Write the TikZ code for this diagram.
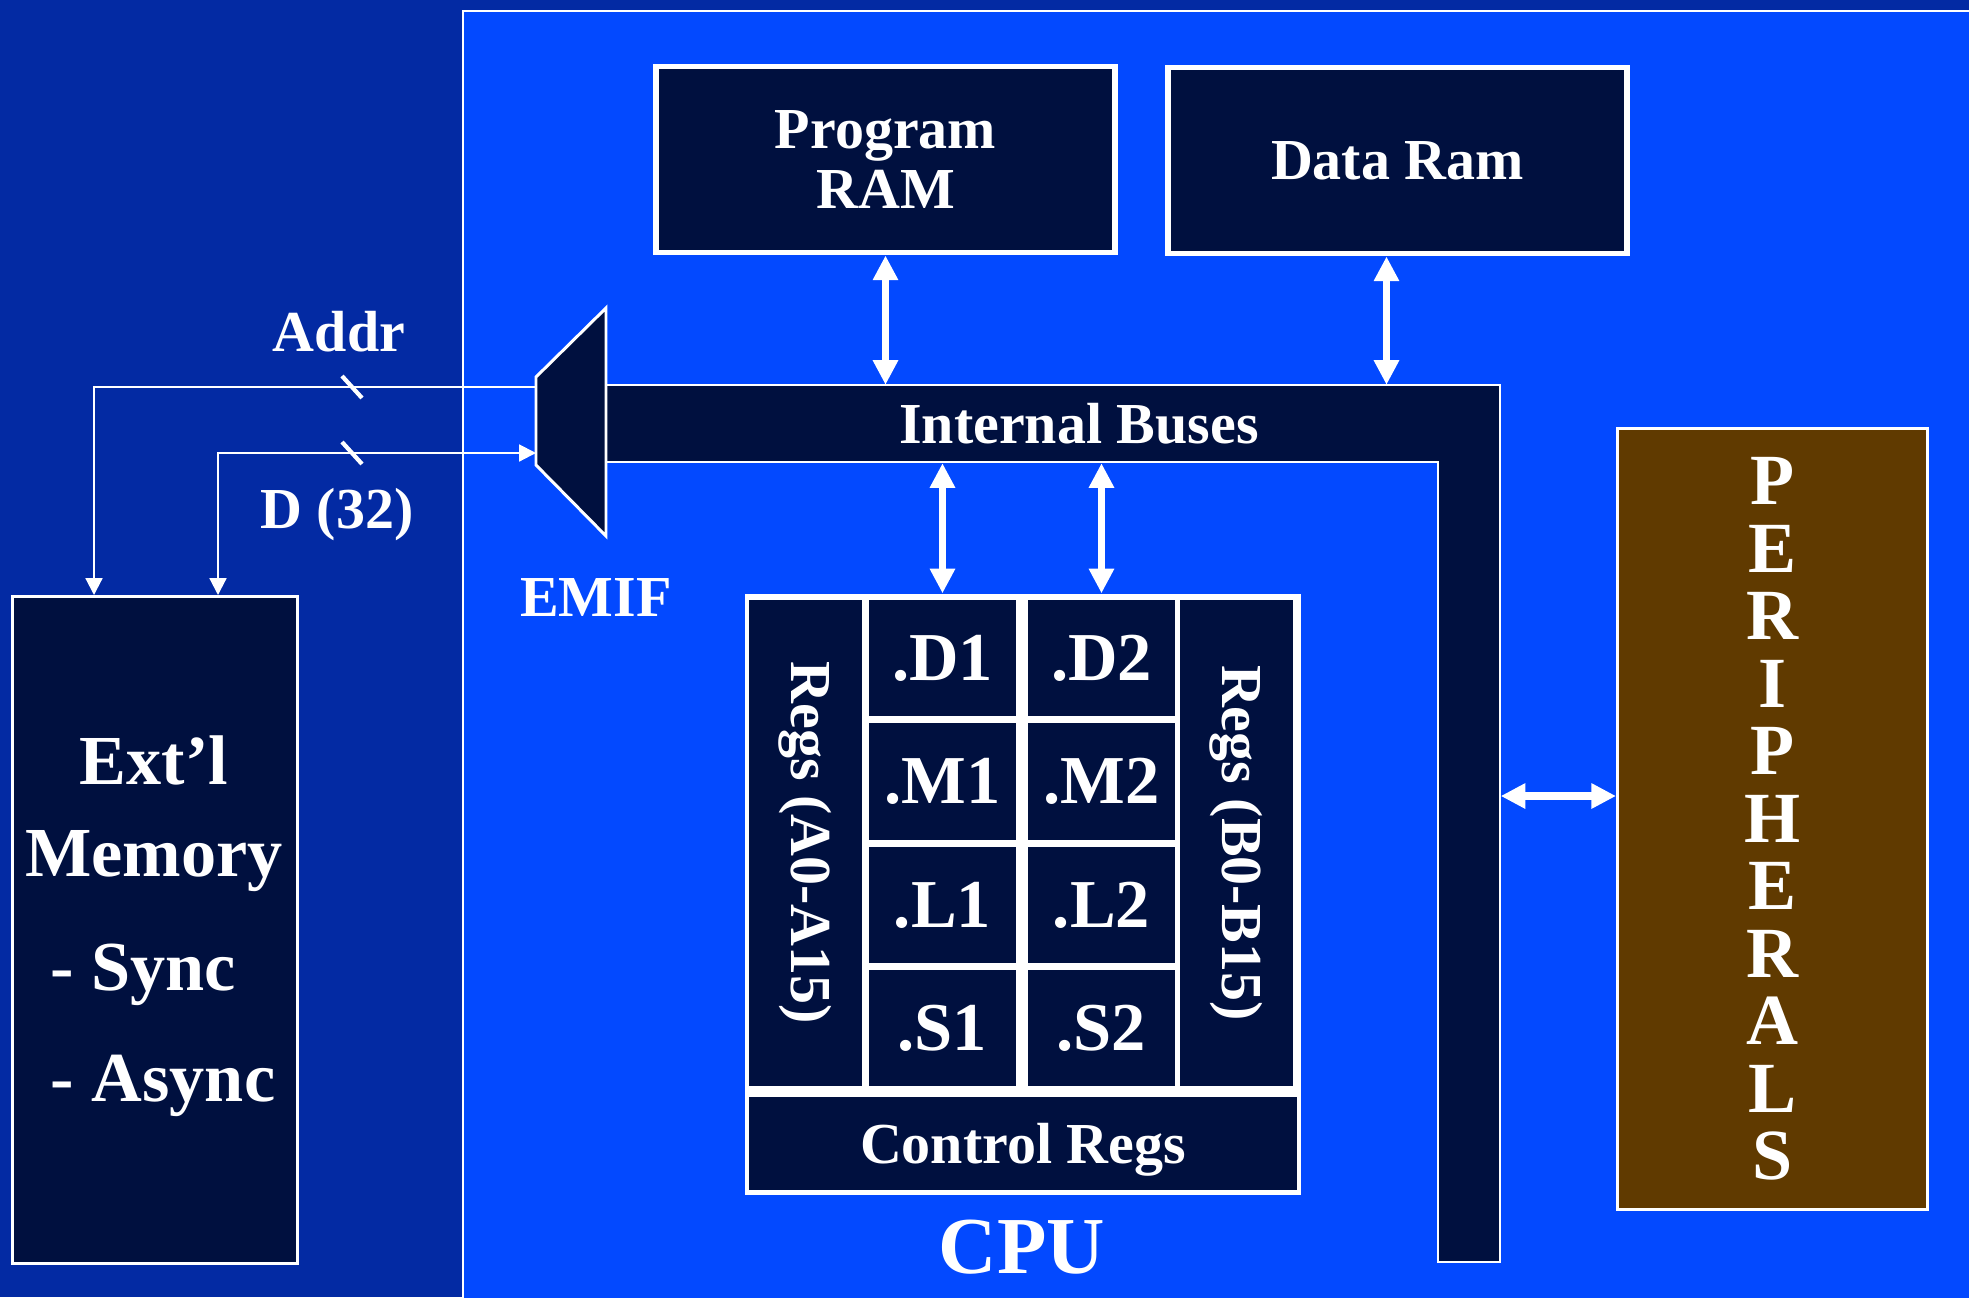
\documentclass[tikz,border=0pt]{standalone}
\usepackage{fontspec}
\setmainfont{Liberation Serif}
\usetikzlibrary{arrows.meta,positioning,calc}
\definecolor{bgDark}{HTML}{032AA3}
\definecolor{cpuBlue}{HTML}{0349FF}
\definecolor{boxFill}{HTML}{00103F}
\definecolor{periFill}{HTML}{603A00}
\tikzset{
  txt/.style   ={text=white, font=\bfseries\fontsize{16.5}{17}\selectfont, align=center, inner sep=0pt},
  box/.style   ={draw=white, fill=boxFill, line width=0.85pt, txt},
  ram/.style   ={box, line width=1.7pt, minimum width=45.9mm, minimum height=18.6mm},
  unit/.style  ={fill=boxFill, minimum width=14.7mm, minimum height=11.65mm, txt, font=\bfseries\fontsize{19.5}{20}\selectfont},
  regcol/.style={fill=boxFill, minimum width=48.6mm, minimum height=11.3mm, txt},
  big/.style   ={txt, font=\bfseries\fontsize{20}{22}\selectfont},
  busfill/.style={draw=white, fill=boxFill, line width=0.6pt},
  dblarr/.style={{Triangle[length=7pt,width=6.8pt]}-{Triangle[length=7pt,width=6.8pt]}, white, line width=2pt},
  wire/.style  ={-{Triangle[length=4.8pt,width=4.8pt]}, white, line width=0.6pt},
  dwire/.style ={{Triangle[length=4.8pt,width=4.8pt]}-{Triangle[length=4.8pt,width=4.8pt]}, white, line width=0.6pt},
  tick/.style  ={white, line width=1.2pt},
}

\begin{document}
\begin{tikzpicture}[x=0.1mm, y=-0.1mm]
  \useasboundingbox (0,0) rectangle (1969,1297);
  % backgrounds
  \fill[bgDark] (0,0) rectangle (1969,1297);
  \draw[white, line width=0.6pt, fill=cpuBlue] (463,11) rectangle (1990,1320);

  % memories
  \node[ram] (pram) at (885.5,159.5) {Program\\RAM};
  \node[ram] (dram) at (1397.5,160.5) {Data Ram};
  \node[box, minimum width=28.5mm, minimum height=66.7mm] (ext) at (155,930) {};
  \node[big] (extname) at (154,814) {Ext’l\\[1.5mm]Memory};
  \node[big, anchor=west] (sync) at (50,975) {- Sync};
  \node[big, anchor=west] (async) at (50,1086) {- Async};

  % internal buses and EMIF
  \draw[busfill] (606,385) -- (1500,385) -- (1500,1262) -- (1438,1262) -- (1438,462) -- (606,462);
  \node[txt, minimum height=7.7mm] (bus) at (1079,424) {Internal Buses};
  \node[minimum width=6.2mm, minimum height=80mm, inner sep=0pt] (busv) at (1469,862) {};
  \draw[busfill, line width=0.85pt] (606,308) -- (606,536) -- (536,465) -- (536,377) -- cycle;
  \coordinate (emifA) at (536,387);
  \coordinate (emifD) at (536,453);
  \node[txt] (emiflbl) at (596,598) {EMIF};

  % CPU
  \node[fill=white, minimum width=55.6mm, minimum height=60.1mm, inner sep=0pt] (cpu) at (1023,894.5) {};
  \node[regcol, rotate=-90] (rega) at (805.5,843) {Regs (A0-A15)};
  \node[regcol, rotate=-90] (regb) at (1236.5,843) {Regs (B0-B15)};
  \foreach \u/\y in {D/658, M/781.5, L/905, S/1028} {
    \node[unit] (\u1) at (942.5,\y) {.\u1};
    \node[unit] (\u2) at (1101.5,\y) {.\u2};
  }
  \node[unit, font=\bfseries\fontsize{16.5}{17}\selectfont, text depth=0pt, minimum width=54.8mm, minimum height=9.3mm] (ctrl) at (1023,1143.5) {Control Regs};
  \node[txt, font=\bfseries\fontsize{23}{25}\selectfont] (cpulbl) at (1022,1247) {CPU};

  % peripherals
  \node[box, fill=periFill, minimum width=31mm, minimum height=78.1mm,
        font=\bfseries\fontsize{20.5}{19.2}\selectfont] (periph) at (1772.5,819)
        {P\\E\\R\\I\\P\\H\\E\\R\\A\\L\\S};

  % external wires
  \coordinate (extA) at ([xshift=8.3mm]ext.north west);
  \coordinate (extD) at ([xshift=20.7mm]ext.north west);
  \draw[wire] (emifA) -| (extA);
  \draw[dwire] (extD) |- (emifD);
  \foreach \y in {387,453} \draw[tick] (342,\y-11) -- (362,\y+11);
  \node[txt] (addr) at (339,332) {Addr};
  \node[txt] (dlbl) at (337,515) {D (32)};

  % bus arrows
  \draw[dblarr] (pram.south) -- (pram.south |- bus.north);
  \draw[dblarr] ([xshift=-1.1mm]dram.south) -- ([xshift=-1.1mm]dram.south |- bus.north);
  \draw[dblarr] (D1 |- bus.south) -- (D1 |- cpu.north);
  \draw[dblarr] (D2 |- bus.south) -- (D2 |- cpu.north);
  \draw[dblarr] ([yshift=2.3mm]busv.east |- periph.west) -- ([yshift=2.3mm]periph.west);
\end{tikzpicture}
\end{document}
